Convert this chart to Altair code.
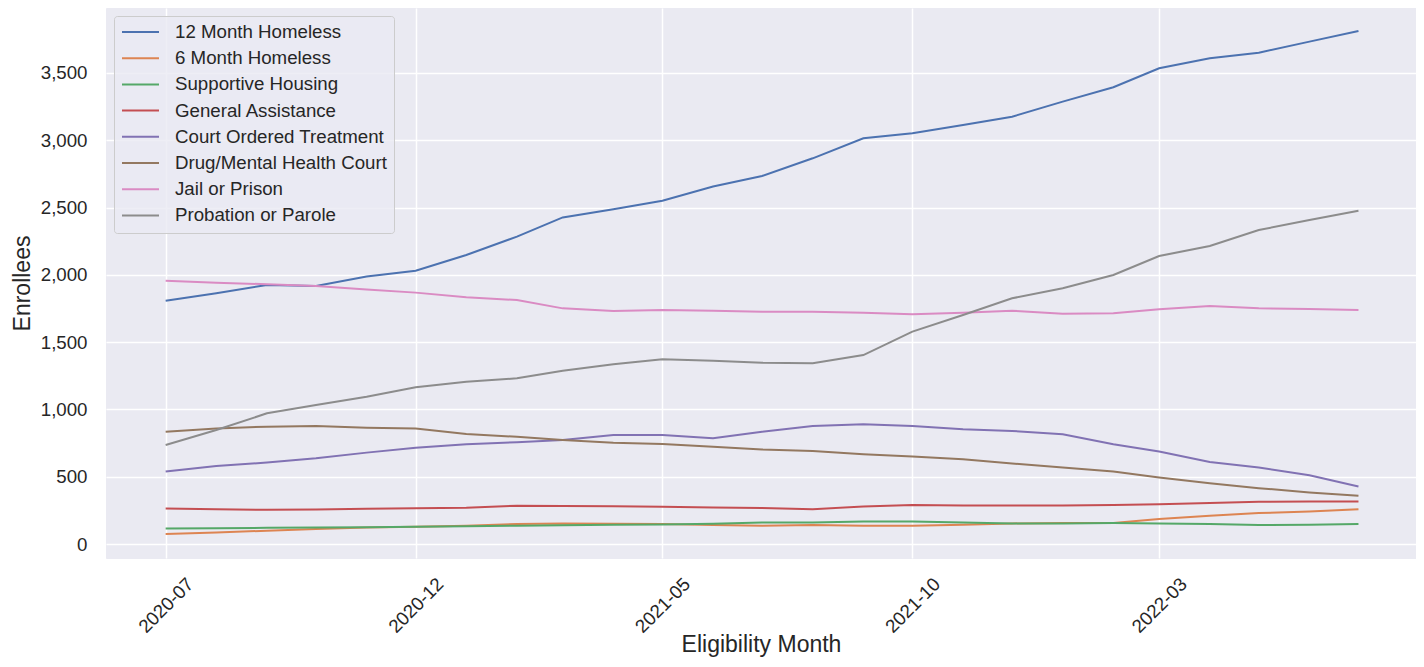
import altair as alt
import pandas as pd

months = ["2020-07", "2020-08", "2020-09", "2020-10", "2020-11", "2020-12",
          "2021-01", "2021-02", "2021-03", "2021-04", "2021-05", "2021-06",
          "2021-07", "2021-08", "2021-09", "2021-10", "2021-11", "2021-12",
          "2022-01", "2022-02", "2022-03", "2022-04", "2022-05", "2022-06",
          "2022-07"]

series_names = ["12 Month Homeless", "6 Month Homeless", "Supportive Housing",
                "General Assistance", "Court Ordered Treatment",
                "Drug/Mental Health Court", "Jail or Prison", "Probation or Parole"]

twelve_month = [1808, 1863, 1925, 1917, 1987, 2031, 2148, 2284, 2427, 2487, 2551, 2656, 2735,
                2866, 3015, 3052, 3113, 3175, 3287, 3394, 3535, 3609, 3651, 3733, 3812]
six_month = [74, 86, 99, 111, 123, 128, 136, 148, 153, 150, 148, 142, 136,
             141, 136, 136, 143, 153, 156, 156, 185, 210, 230, 242, 259]
supportive = [116, 118, 120, 122, 125, 128, 132, 136, 140, 143, 145, 150, 160,
              160, 168, 168, 160, 153, 153, 156, 153, 148, 141, 143, 148]
general = [264, 259, 254, 257, 262, 266, 270, 284, 282, 280, 277, 272, 268,
           259, 279, 289, 286, 286, 286, 290, 296, 304, 314, 316, 316]
court = [538, 580, 605, 637, 679, 716, 741, 756, 773, 810, 810, 785, 835,
         877, 889, 877, 852, 840, 815, 741, 687, 610, 568, 511, 427]
drug = [835, 859, 872, 877, 864, 859, 817, 797, 773, 753, 743, 723, 703,
        692, 667, 650, 630, 598, 568, 538, 494, 452, 415, 383, 358]
jail = [1957, 1942, 1930, 1917, 1892, 1868, 1833, 1813, 1751, 1731, 1739, 1734, 1726,
        1726, 1719, 1707, 1719, 1734, 1711, 1714, 1744, 1769, 1751, 1746, 1739]
probation = [736, 847, 971, 1033, 1095, 1164, 1206, 1231, 1288, 1335, 1372, 1362, 1347,
             1343, 1404, 1578, 1702, 1826, 1900, 1999, 2140, 2214, 2333, 2408, 2477]

colors = ["#4C72B0", "#DD8452", "#55A868", "#C44E52",
          "#8172B3", "#937860", "#DA8BC3", "#8C8C8C"]

tick_months = [(2020, 7), (2020, 12), (2021, 5), (2021, 10), (2022, 3)]
y_ticks = [0, 500, 1000, 1500, 2000, 2500, 3000, 3500]

all_series = [twelve_month, six_month, supportive, general, court, drug, jail, probation]
rows = []
for name, vals in zip(series_names, all_series):
    for m, v in zip(months, vals):
        rows.append({"month": m + "-01", "series": name, "value": v})
df = pd.DataFrame(rows)

FONT = "Liberation Sans"
TXT = "#262626"
LABEL_SIZE = 18.7

x_enc = alt.X(
    "month:T",
    scale=alt.Scale(
        type="utc",
        domain=[alt.DateTime(year=2020, month=5, date=25, hours=12, utc=True),
                alt.DateTime(year=2022, month=8, date=5, hours=5, utc=True)],
        nice=False,
    ),
    axis=alt.Axis(
        values=[alt.DateTime(year=y, month=m, date=1, utc=True) for y, m in tick_months],
        format="%Y-%m",
        labelAngle=-45,
        labelAlign="center",
        labelBaseline="middle",
        labelPadding=47,
        labelFontSize=LABEL_SIZE,
        title="Eligibility Month",
        titleFontSize=23,
        titlePadding=-3,
        labelFlush=False,
        labelOverlap=False,
    ),
)

y_enc = alt.Y(
    "value:Q",
    scale=alt.Scale(domain=[-104, 3983], nice=False, zero=False),
    axis=alt.Axis(
        values=y_ticks,
        format=",d",
        labelPadding=19,
        labelFontSize=LABEL_SIZE,
        title="Enrollees",
        titleFontSize=23,
        titlePadding=6,
    ),
)

color_enc = alt.Color(
    "series:N",
    sort=series_names,
    scale=alt.Scale(domain=series_names, range=colors),
    legend=alt.Legend(
        title=None,
        orient="none",
        legendX=8,
        legendY=8,
        symbolType="stroke",
        symbolSize=1369,
        symbolStrokeWidth=2,
        clipHeight=18,
        labelFontSize=LABEL_SIZE,
        labelFont=FONT,
        labelColor=TXT,
        labelLimit=0,
        labelOffset=15,
        rowPadding=7.2,
        padding=7,
        fillColor="rgba(234,234,242,0.8)",
        strokeColor="#CCCCCC",
        cornerRadius=3,
    ),
)

chart = (
    alt.Chart(df)
    .mark_line(strokeWidth=2)
    .encode(x=x_enc, y=y_enc, color=color_enc, order=alt.Order("month:T"))
    .properties(
        width=1310,
        height=550,
        autosize=alt.AutoSizeParams(type="none"),
        padding={"left": 98, "top": 0, "right": 0, "bottom": 101},
        background="white",
    )
    .configure_view(fill="#EAEAF2", stroke="#EAEAF2")
    .configure_axis(
        labelFont=FONT,
        titleFont=FONT,
        labelColor=TXT,
        titleColor=TXT,
        titleFontWeight="normal",
        domain=False,
        ticks=False,
        grid=True,
        gridColor="white",
        gridWidth=1.5,
    )
)

chart.save("out.html", embed_options={"renderer": "svg", "actions": False})
